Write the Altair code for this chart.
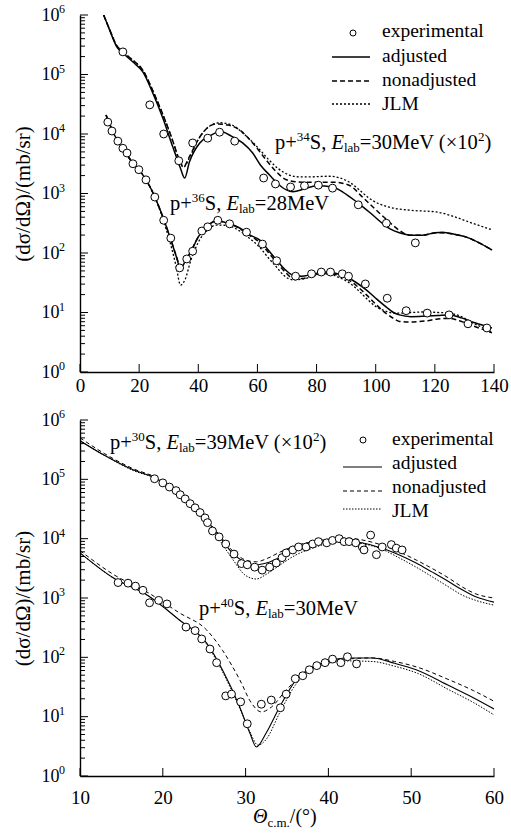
import altair as alt
import pandas as pd

FONT = "Times New Roman, Liberation Serif, serif"

# ================= TOP PANEL (theta 0-140) =================
# p+34S, Elab=30MeV (x10^2) -- values given as log10 of plotted d(sigma)/d(Omega)
s34_exp_theta = [14.5, 23.6, 28.3, 33.4, 38.1, 43.2, 47.2, 52.3, 62.1, 66.1, 71.2, 75.9, 80.6, 85.4, 94.1, 103.6, 113.4]
s34_exp_log = [5.38, 4.49, 4.00, 3.55, 3.85, 3.93, 4.03, 3.88, 3.26, 3.16, 3.11, 3.13, 3.14, 3.09, 2.81, 2.50, 2.17]

s34_adj_theta = [8.0, 10.0, 12.5, 14.5, 17.9, 21.3, 24.6, 28.0, 31.4, 34.0, 35.4, 37.0, 40.5, 44.0, 47.5, 51.0, 55.0, 58.4, 61.0, 64.1,
                 67.0, 69.8, 72.0, 76.0, 80.0, 85.4, 89.0, 93.5, 98.0, 102.2, 105.0, 108.0, 112.0, 115.7, 120.0, 122.5, 127.0, 131.6, 135.0, 139.3]
s34_adj_log = [6.0, 5.75, 5.46, 5.36, 5.21, 5.04, 4.69, 4.27, 3.78, 3.42, 3.26, 3.53, 3.85, 3.97, 4.04, 3.97, 3.85, 3.68, 3.48, 3.31,
               3.16, 3.06, 3.03, 3.08, 3.13, 3.11, 3.02, 2.86, 2.68, 2.50, 2.40, 2.34, 2.30, 2.30, 2.34, 2.35, 2.31, 2.25, 2.17, 2.05]

s34_non_theta = [8.0, 10.0, 12.5, 14.5, 17.9, 21.3, 24.6, 28.0, 31.4, 33.5, 35.0, 37.0, 40.5, 43.5, 46.2, 50.0, 53.0, 58.4, 63.0, 66.5,
                 69.8, 75.2, 80.0, 85.4, 91.0, 95.5, 100.2, 104.6, 108.0, 111.3, 116.0, 120.4, 126.0, 131.6, 135.0, 139.3]
s34_non_log = [6.0, 5.76, 5.48, 5.38, 5.24, 5.07, 4.73, 4.33, 3.88, 3.58, 3.45, 3.62, 3.95, 4.12, 4.17, 4.15, 4.10, 3.85, 3.56, 3.36,
               3.23, 3.19, 3.19, 3.19, 3.14, 2.94, 2.72, 2.52, 2.38, 2.30, 2.30, 2.34, 2.32, 2.25, 2.17, 2.05]

s34_jlm_theta = [8.0, 10.0, 12.5, 14.5, 17.9, 21.3, 24.6, 28.0, 31.4, 33.5, 35.0, 37.0, 40.5, 43.5, 47.2, 51.0, 55.0, 60.0, 64.0, 67.0,
                 70.8, 74.0, 77.6, 84.3, 88.0, 91.1, 94.0, 97.8, 101.0, 104.6, 111.3, 120.4, 126.0, 131.6, 139.3]
s34_jlm_log = [6.0, 5.76, 5.48, 5.38, 5.24, 5.07, 4.73, 4.33, 3.88, 3.56, 3.44, 3.60, 3.95, 4.12, 4.19, 4.16, 4.02, 3.78, 3.56, 3.42,
               3.31, 3.28, 3.28, 3.29, 3.26, 3.19, 3.08, 2.92, 2.83, 2.77, 2.72, 2.69, 2.62, 2.52, 2.39]

# p+36S, Elab=28MeV
s36_exp_theta = [9.4, 10.8, 12.8, 14.5, 15.9, 17.9, 19.9, 22.3, 25.3, 28.3, 30.7, 33.7, 36.1, 38.1, 41.2, 43.2, 46.6, 50.6, 56.3,
                 61.7, 66.5, 72.9, 78.3, 81.6, 84.7, 88.7, 90.8, 96.5, 103.9, 110.3, 117.4, 124.8, 131.2, 137.6]
s36_exp_log = [4.20, 4.05, 3.88, 3.76, 3.68, 3.50, 3.40, 3.23, 2.94, 2.55, 2.25, 1.75, 1.90, 2.03, 2.37, 2.44, 2.55, 2.49, 2.35,
               2.15, 1.87, 1.61, 1.65, 1.68, 1.68, 1.65, 1.61, 1.48, 1.24, 1.03, 0.99, 0.96, 0.81, 0.74]

s36_theta = [8.8, 12.0, 15.0, 18.0, 21.0, 24.0, 27.0, 29.0, 31.0, 32.5, 34.0, 35.5, 37.5, 40.0, 43.0, 46.2, 50.0, 54.0, 57.5, 60.7,
             63.5, 66.5, 69.0, 71.9, 75.0, 77.6, 81.0, 84.3, 87.0, 90.1, 93.5, 96.8, 100.0, 103.6, 106.0, 108.0, 112.0, 117.1, 121.0,
             124.8, 129.0, 132.6, 136.0, 139.3]
s36_adj_log = [4.32, 3.95, 3.72, 3.50, 3.33, 3.08, 2.74, 2.47, 2.18, 1.95, 1.74, 1.85, 2.02, 2.27, 2.45, 2.54, 2.50, 2.42, 2.30, 2.22,
               2.06, 1.88, 1.74, 1.63, 1.61, 1.63, 1.67, 1.68, 1.65, 1.60, 1.50, 1.38, 1.24, 1.09, 1.00, 0.96, 0.93, 0.94, 0.95,
               0.96, 0.91, 0.84, 0.79, 0.74]
s36_non_log = [4.32, 3.95, 3.72, 3.50, 3.33, 3.08, 2.74, 2.47, 2.18, 1.96, 1.77, 1.86, 2.03, 2.27, 2.45, 2.54, 2.50, 2.41, 2.29, 2.18,
               2.02, 1.84, 1.70, 1.58, 1.57, 1.60, 1.65, 1.66, 1.63, 1.57, 1.45, 1.30, 1.14, 0.98, 0.90, 0.85, 0.84, 0.86, 0.89,
               0.90, 0.85, 0.78, 0.72, 0.66]
s36_jlm_log = [4.32, 3.95, 3.72, 3.50, 3.33, 3.08, 2.72, 2.42, 2.08, 1.78, 1.46, 1.55, 1.88, 2.18, 2.38, 2.47, 2.46, 2.37, 2.24, 2.10,
               1.93, 1.76, 1.62, 1.55, 1.56, 1.59, 1.64, 1.65, 1.60, 1.53, 1.40, 1.24, 1.10, 1.02, 0.99, 0.99, 1.00, 1.01, 1.00,
               0.99, 0.93, 0.83, 0.75, 0.67]

# ================= BOTTOM PANEL (theta 10-60) =================
# p+30S, Elab=39MeV (x10^2)
s30_exp_theta = [19.0, 20.0, 20.8, 21.6, 22.1, 22.7, 23.3, 23.9, 24.5, 25.1, 25.4, 26.0, 26.8, 27.6, 28.6, 29.5, 30.2, 31.1, 32.0,
                 32.9, 33.7, 34.4, 34.9, 35.7, 36.4, 37.3, 38.1, 38.8, 39.8, 40.5, 41.3, 41.9, 42.5, 43.3, 44.1, 44.3, 45.1, 45.8,
                 46.5, 47.6, 48.2, 48.9]
s30_exp_log = [5.01, 4.94, 4.87, 4.81, 4.74, 4.67, 4.59, 4.52, 4.44, 4.35, 4.27, 4.13, 4.03, 3.91, 3.74, 3.58, 3.56, 3.52, 3.47,
               3.52, 3.59, 3.68, 3.76, 3.81, 3.86, 3.86, 3.91, 3.95, 3.93, 3.97, 4.00, 3.95, 3.95, 3.93, 3.86, 3.81, 4.06, 3.73,
               3.86, 3.90, 3.84, 3.81]

s30_theta = [10.0, 13.0, 16.4, 19.3, 22.0, 24.5, 26.5, 28.4, 30.0, 31.3, 32.5, 34.1, 36.0, 38.1, 40.0, 42.2, 44.0, 46.5, 48.5,
             50.6, 52.5, 54.6, 56.0, 57.8, 60.0]
s30_adj_log = [5.65, 5.40, 5.16, 5.01, 4.71, 4.44, 4.10, 3.76, 3.60, 3.56, 3.59, 3.68, 3.80, 3.90, 3.95, 3.96, 3.93, 3.84, 3.73,
               3.59, 3.44, 3.27, 3.15, 3.02, 2.93]
s30_non_log = [5.70, 5.43, 5.18, 5.02, 4.72, 4.45, 4.12, 3.80, 3.64, 3.61, 3.66, 3.77, 3.88, 3.95, 3.99, 4.01, 3.98, 3.89, 3.78,
               3.64, 3.50, 3.33, 3.20, 3.07, 3.00]
s30_jlm_log = [5.65, 5.40, 5.15, 5.00, 4.70, 4.42, 4.05, 3.66, 3.38, 3.32, 3.40, 3.55, 3.72, 3.84, 3.92, 3.95, 3.92, 3.82, 3.68,
               3.52, 3.36, 3.18, 3.06, 2.96, 2.88]

# p+40S, Elab=30MeV
s40_exp_theta = [14.6, 15.8, 16.7, 17.6, 18.4, 19.5, 20.5, 22.8, 23.9, 24.7, 25.7, 26.5, 27.6, 28.3, 29.4, 30.2, 31.9, 33.1, 34.2,
                 34.9, 36.0, 36.9, 37.7, 38.6, 39.6, 40.5, 41.5, 42.3, 43.4]
s40_exp_log = [3.26, 3.25, 3.20, 3.13, 2.92, 2.96, 2.90, 2.51, 2.45, 2.31, 2.14, 1.91, 1.35, 1.38, 1.25, 0.88, 1.21, 1.28, 1.15,
               1.38, 1.64, 1.69, 1.79, 1.86, 1.91, 1.97, 1.91, 2.01, 1.89]

s40_adj_theta = [10.0, 14.0, 18.1, 22.0, 25.3, 27.2, 29.3, 30.5, 31.3, 32.5, 34.1, 36.1, 38.1, 40.0, 42.2, 45.3, 48.0, 50.6, 54.6, 57.5, 60.0]
s40_adj_log = [3.76, 3.34, 3.05, 2.63, 2.24, 1.79, 1.16, 0.73, 0.49, 0.73, 1.16, 1.62, 1.84, 1.94, 1.99, 1.99, 1.90, 1.79, 1.52, 1.32, 1.13]
s40_non_theta = [10.0, 14.0, 18.1, 22.0, 25.3, 27.2, 29.3, 30.7, 31.9, 33.1, 34.9, 37.3, 40.0, 42.2, 45.3, 48.0, 50.6, 54.6, 57.5, 60.0]
s40_non_log = [3.80, 3.40, 3.10, 2.75, 2.46, 2.12, 1.62, 1.23, 1.08, 1.16, 1.45, 1.75, 1.92, 1.97, 1.99, 1.93, 1.84, 1.62, 1.44, 1.26]
s40_jlm_theta = [10.0, 14.0, 18.1, 22.0, 25.3, 27.2, 29.3, 30.5, 31.5, 32.5, 34.1, 36.1, 38.1, 40.0, 42.2, 45.3, 48.0, 50.6, 54.6, 57.5, 60.0]
s40_jlm_log = [3.76, 3.34, 3.05, 2.63, 2.22, 1.76, 1.14, 0.75, 0.52, 0.62, 1.06, 1.55, 1.80, 1.90, 1.94, 1.93, 1.85, 1.74, 1.45, 1.24, 1.03]

# axis tick values / labels
top_xticks = [0, 20, 40, 60, 80, 100, 120, 140]
bot_xticks = [10, 20, 30, 40, 50, 60]
decade_exps = [0, 1, 2, 3, 4, 5, 6]
legend_labels = ["experimental", "adjusted", "nonadjusted", "JLM"]
y_title = "(dσ/dΩ)/(mb/sr)"

W = 414
H_TOP = 357
H_BOT = 356
PAD_L, PAD_T, PAD_R, PAD_B = 80, 15, 17, 63

ONE = pd.DataFrame({"k": [0]})

CW = {'p': .5, '+': .564, 'S': .556, ',': .25, ' ': .25, 'E': .611, 'l': .278, 'a': .444, 'b': .5, '=': .564,
      'M': .889, 'e': .444, 'V': .722, '(': .333, ')': .333, '×': .564, 'c': .444, 'm': .778, '.': .25,
      '/': .278, '°': .4, 'Θ': .722}


def tw(s, size):
    return sum(CW.get(c, 0.5) for c in s) * size


def frame(theta, logs, reaction):
    return pd.DataFrame({"theta": theta, "sigma": [10.0 ** v for v in logs], "reaction": reaction})


def rich(runs, x0, y0):
    layers = []
    x = x0
    for txt, size, shift, style in runs:
        layers.append(
            alt.Chart(ONE).mark_text(text=txt, font=FONT, fontSize=size, fontStyle=style, align="left",
                                     baseline="alphabetic", color="black")
            .encode(x=alt.value(x), y=alt.value(y0 + shift))
        )
        x += tw(txt, size)
    return layers


def reaction_runs(A, energy, scaled, fs=20.5):
    runs = [("p+", fs, 0, "normal"), (A, 13, -8, "normal"), ("S, ", fs, 0, "normal"),
            ("E", fs, 0, "italic"), ("lab", 13, 3, "normal")]
    if scaled:
        runs += [("=" + energy + "MeV (×10", fs, 0, "normal"), ("2", 13, -8, "normal"), (")", fs, 0, "normal")]
    else:
        runs += [("=" + energy + "MeV", fs, 0, "normal")]
    return runs


def legend(xc, xl0, xl1, xt, text_ys, sym_ys, styles):
    layers = [
        alt.Chart(ONE).mark_point(shape="circle", size=36, fill="white", fillOpacity=1, stroke="black",
                                  strokeWidth=1, opacity=1)
        .encode(x=alt.value(xc), y=alt.value(sym_ys[0]))
    ]
    for (dash, sw), yy in zip(styles, sym_ys[1:]):
        kw = dict(color="black", strokeWidth=sw)
        if dash:
            kw["strokeDash"] = dash
        layers.append(alt.Chart(ONE).mark_rule(**kw)
                      .encode(x=alt.value(xl0), x2=alt.value(xl1), y=alt.value(yy)))
    for lab, yy in zip(legend_labels, text_ys):
        layers.append(alt.Chart(ONE).mark_text(text=lab, font=FONT, fontSize=19.5, align="left",
                                               baseline="alphabetic", color="black")
                      .encode(x=alt.value(xt), y=alt.value(yy)))
    return layers


def frame_anchor(yy):
    # white hairline spanning the full page width: pins the chart bounds to the page
    return alt.Chart(ONE).mark_rule(color="white", strokeWidth=0.5).encode(
        x=alt.value(-PAD_L + 0.5), x2=alt.value(W + PAD_R - 0.5), y=alt.value(yy))


def panel(curves, points, xdomain, xticks, H, lab_pad, styles, extra):
    xaxis = alt.Axis(values=xticks, ticks=False, grid=False, labelFont=FONT, labelFontSize=19, labelColor="black",
                     labelPadding=lab_pad, domainColor="black", domainWidth=1.4, title=None,
                     labelFlush=False, labelOverlap=False)
    yaxis = alt.Axis(values=[10.0 ** e for e in decade_exps], labelExpr="'10'", ticks=False, grid=False,
                     labelFont=FONT, labelFontSize=18, labelColor="black", labelPadding=21,
                     domainColor="black", domainWidth=1.4, title=y_title, titleFont=FONT, titleFontSize=21,
                     titleFontWeight="normal", titleColor="black", titleX=-47, titleY=H / 2,
                     labelOverlap=False, labelFlush=False)
    X = alt.X("theta:Q", scale=alt.Scale(domain=xdomain, nice=False, zero=False), axis=xaxis)
    Y = alt.Y("sigma:Q", scale=alt.Scale(type="log", domain=[1, 1e6], nice=False), axis=yaxis)

    layers = []
    for df, (dash, sw) in zip(curves, styles):
        kw = dict(color="black", strokeWidth=sw, clip=True, interpolate="monotone")
        if dash:
            kw["strokeDash"] = dash
        layers.append(alt.Chart(df).mark_line(**kw).encode(x=X, y=Y, detail="reaction:N"))
    layers.append(
        alt.Chart(points).mark_point(shape="circle", size=62, fill="white", fillOpacity=1, stroke="black",
                                     strokeWidth=1, opacity=1).encode(x=X, y=Y)
    )
    # inward axis ticks
    major = pd.DataFrame({"sigma": [10.0 ** e for e in decade_exps]})
    minor = pd.DataFrame({"sigma": [k * 10.0 ** e for e in decade_exps[:-1] for k in range(2, 10)]})
    layers.append(alt.Chart(major).mark_rule(color="black", strokeWidth=1)
                  .encode(y=Y, x=alt.value(0), x2=alt.value(8)))
    layers.append(alt.Chart(minor).mark_rule(color="black", strokeWidth=1)
                  .encode(y=Y, x=alt.value(0), x2=alt.value(5)))
    xt = pd.DataFrame({"theta": xticks})
    layers.append(alt.Chart(xt).mark_rule(color="black", strokeWidth=1)
                  .encode(x=X, y=alt.value(H), y2=alt.value(H - 8)))
    # exponents of the y labels
    ex = pd.DataFrame({"sigma": [10.0 ** e for e in decade_exps], "e": [str(e) for e in decade_exps]})
    layers.append(alt.Chart(ex).mark_text(font=FONT, fontSize=12, align="left", baseline="middle", dy=-6,
                                          color="black")
                  .encode(y=Y, x=alt.value(-21), text="e:N"))
    layers += extra
    return alt.layer(*layers).properties(width=W, height=H)


# ---------- top ----------
top_styles = [(None, 1.5), ([5, 3], 1.5), ([2, 2], 1.3)]
top_curves = [
    pd.concat([frame(s34_adj_theta, s34_adj_log, "p34S"), frame(s36_theta, s36_adj_log, "p36S")]),
    pd.concat([frame(s34_non_theta, s34_non_log, "p34S"), frame(s36_theta, s36_non_log, "p36S")]),
    pd.concat([frame(s34_jlm_theta, s34_jlm_log, "p34S"), frame(s36_theta, s36_jlm_log, "p36S")]),
]
top_points = pd.concat([frame(s34_exp_theta, s34_exp_log, "p34S"), frame(s36_exp_theta, s36_exp_log, "p36S")])
top_extra = ([frame_anchor(-PAD_T + 0.5)]
             + legend(273, 252, 290, 302, [22, 46.5, 71, 95], [18, 42, 66, 89], top_styles)
             + rich(reaction_runs("34", "30", True), 195, 134)
             + rich(reaction_runs("36", "28", False), 90, 195))
top = panel(top_curves, top_points, [0, 140], top_xticks, H_TOP, 4, top_styles, top_extra)

# ---------- bottom ----------
bot_styles = [(None, 1.1), ([4, 3], 1.0), ([1.5, 1.5], 1.0)]
bot_curves = [
    pd.concat([frame(s30_theta, s30_adj_log, "p30S"), frame(s40_adj_theta, s40_adj_log, "p40S")]),
    pd.concat([frame(s30_theta, s30_non_log, "p30S"), frame(s40_non_theta, s40_non_log, "p40S")]),
    pd.concat([frame(s30_theta, s30_jlm_log, "p30S"), frame(s40_jlm_theta, s40_jlm_log, "p40S")]),
]
bot_points = pd.concat([frame(s30_exp_theta, s30_exp_log, "p30S"), frame(s40_exp_theta, s40_exp_log, "p40S")])
bot_extra = ([frame_anchor(H_BOT + PAD_B - 0.5)]
             + legend(283, 263, 302, 312, [25, 49, 73, 97], [20, 47, 71, 89], bot_styles)
             + rich(reaction_runs("30", "39", True), 30, 29)
             + rich(reaction_runs("40", "30", False), 119, 195)
             + rich([("Θ", 20, 0, "italic"), ("c.m.", 13, 4, "normal"), ("/(°)", 20, 0, "normal")], 173, 403))
bottom = panel(bot_curves, bot_points, [10, 60], bot_xticks, H_BOT, 12, bot_styles, bot_extra)

chart = alt.vconcat(top, bottom, spacing=48, bounds="flush").properties(
    autosize=alt.AutoSizeParams(type="pad"),
    padding=0,
    background="white",
).configure_view(strokeWidth=0)

chart.save("out.html", embed_options={"renderer": "svg", "actions": False})
